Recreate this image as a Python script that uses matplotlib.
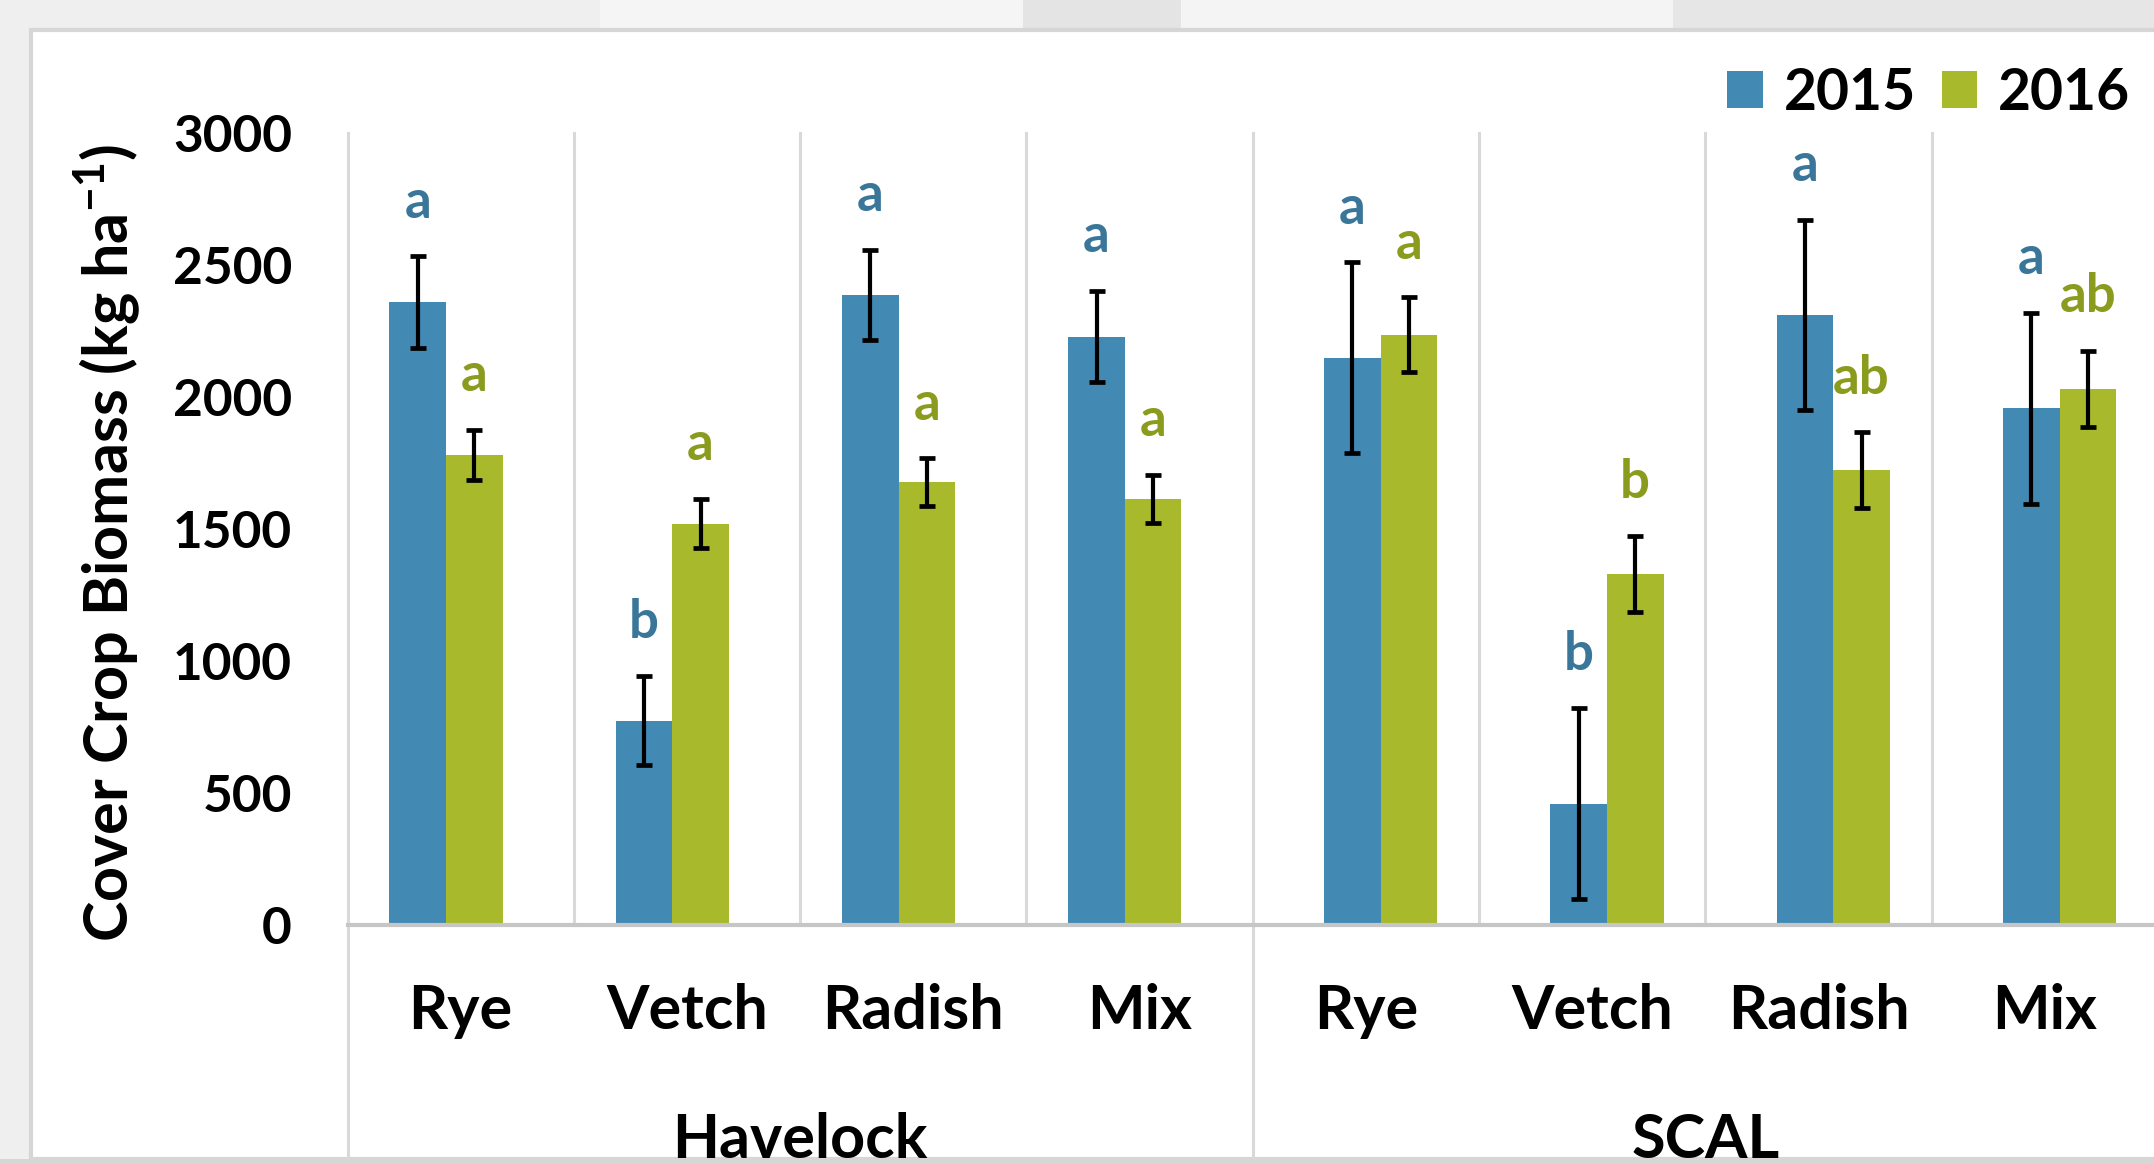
import numpy as np
import matplotlib
matplotlib.use('Agg')
import matplotlib.pyplot as plt
from matplotlib.patches import Rectangle
import matplotlib.transforms as mtransforms

plt.rcParams['font.family'] = ['Lato', 'DejaVu Sans']
plt.rcParams['font.weight'] = 'bold'
plt.rcParams['mathtext.fontset'] = 'custom'
plt.rcParams['mathtext.rm'] = 'Lato:bold'
plt.rcParams['mathtext.bf'] = 'Lato:bold'

# data
sites = ['Havelock', 'SCAL']
crops = ['Rye', 'Vetch', 'Radish', 'Mix']
biomass_2015 = [2360, 772, 2387, 2229, 2148, 458, 2311, 1957]
biomass_2016 = [1781, 1520, 1677, 1615, 2236, 1328, 1723, 2031]
se_2015 = [174, 169, 171, 173, 362, 362, 361, 362]
se_2016 = [95, 93, 91, 91, 142, 143, 143, 144]
letters_2015 = ['a', 'b', 'a', 'a', 'a', 'b', 'a', 'a']
letters_2016 = ['a', 'a', 'a', 'a', 'a', 'b', 'ab', 'ab']
years = ['2015', '2016']

BLUE = '#4289b4'
GREEN = '#a8b92b'
BLUE_TXT = '#3a7699'
GREEN_TXT = '#8a9b1e'
SEP = '#d9d9d9'

W, H = 2154, 1164
fig = plt.figure(figsize=(W / 100, H / 100), dpi=100, facecolor='#efefef')

def fig_rect(x0, y0, x1, y1, **kw):
    # rectangle in pixel coords measured from the top-left corner
    fig.patches.append(Rectangle((x0 / W, 1 - y1 / H), (x1 - x0) / W, (y1 - y0) / H,
                                 transform=fig.transFigure, zorder=-5, **kw))

# grey surround of the screenshot
fig_rect(600, 0, 1023, 30, facecolor='#f5f5f5', edgecolor='none')
fig_rect(1023, 0, 1181, 30, facecolor='#e4e4e4', edgecolor='none')
fig_rect(1181, 0, 1673, 30, facecolor='#f4f4f4', edgecolor='none')
fig_rect(1673, 0, 2154, 30, facecolor='#e6e6e6', edgecolor='none')
# white chart panel
fig_rect(31, 30, 2200, 1159, facecolor='white', edgecolor='#d6d6d6', linewidth=3)

ax_left, ax_right = 347.5, 2158
ax_top, ax_bot = 133.2, 924.5
ax = fig.add_axes([ax_left / W, 1 - ax_bot / H, (ax_right - ax_left) / W, (ax_bot - ax_top) / H])
ax.set_facecolor('none')
ax.set_zorder(2)

n = len(sites) * len(crops)
x = np.arange(n)
shift = np.where(x < len(crops), -0.065, 0.065)
bw = 0.25
x15 = x + shift - bw / 2
x16 = x + shift + bw / 2

ekw = dict(ecolor='black', elinewidth=3.0, capsize=5.5, capthick=3.4, zorder=4)
ax.bar(x15, biomass_2015, bw, color=BLUE, label=years[0], zorder=3,
       yerr=se_2015, error_kw=ekw)
ax.bar(x16, biomass_2016, bw, color=GREEN, label=years[1], zorder=3,
       yerr=se_2016, error_kw=ekw)

for xs, vals, ses, labs, col in [(x15, biomass_2015, se_2015, letters_2015, BLUE_TXT),
                                 (x16, biomass_2016, se_2016, letters_2016, GREEN_TXT)]:
    for xi, v, s, lab in zip(xs, vals, ses, labs):
        ax.text(xi, v + s + 205, lab, ha='center', va='center', fontsize=38,
                color=col, fontweight='bold', zorder=5)

ax.set_xlim(-0.5, n - 0.5)
ax.set_ylim(0, 3000)
ax.set_yticks(np.arange(0, 3001, 500))
ax.tick_params(axis='y', length=0, pad=40, labelsize=37)
ax.set_xticks([])
for sp in ['top', 'right', 'left']:
    ax.spines[sp].set_visible(False)
ax.spines['bottom'].set_color('#c6c6c6')
ax.spines['bottom'].set_linewidth(3)
ax.spines['bottom'].set_zorder(6)

# category separators
trans = mtransforms.blended_transform_factory(ax.transData, ax.transAxes)
below = -(1159 - ax_bot) / (ax_bot - ax_top)
for b in np.arange(-0.5, n - 1, 1.0):
    long_line = (b == -0.5) or (b == len(crops) - 0.5)
    ax.plot([b, b], [below if long_line else 0, 1], transform=trans, color=SEP,
            lw=2.2, clip_on=False, zorder=1)

# category and site labels
y_crop = -(1011 - ax_bot) / (ax_bot - ax_top)
y_site = -(1140 - ax_bot) / (ax_bot - ax_top)
for i in range(n):
    ax.text(i, y_crop, crops[i % len(crops)], transform=trans, ha='center', va='center',
            fontsize=44, fontweight='bold', clip_on=False)
for j, s in enumerate(sites):
    ax.text(j * len(crops) + (len(crops) - 1) / 2, y_site, s, transform=trans,
            ha='center', va='center', fontsize=44, fontweight='bold', clip_on=False)

fig.text(107 / W, 1 - 543 / H, r'Cover Crop Biomass (kg ha$^{-1}$)', rotation=90,
         ha='center', va='center', fontsize=44, fontweight='bold')

leg = ax.legend(loc='center right', bbox_to_anchor=(2130 / W, 1 - 93 / H),
                bbox_transform=fig.transFigure, ncol=2, frameon=False, fontsize=41,
                handlelength=0.63, handleheight=0.63, handletextpad=0.36,
                columnspacing=0.45, borderpad=0, borderaxespad=0)
for t in leg.get_texts():
    t.set_fontweight('bold')

# bottom strip hides the clipped site labels
strip = fig.add_axes([0, 0, 1, 5 / H])
strip.set_zorder(10)
strip.axis('off')
strip.add_patch(Rectangle((0, 0), 1, 1, transform=strip.transAxes, facecolor='#d6d6d6',
                          edgecolor='none'))

fig.savefig('out.png', dpi=100, facecolor=fig.get_facecolor())
